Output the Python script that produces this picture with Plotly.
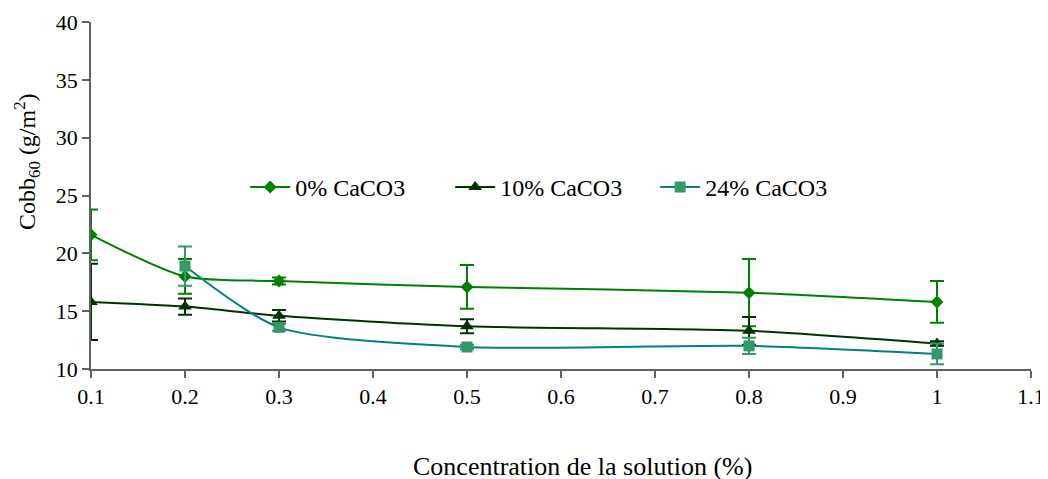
import plotly.graph_objects as go

x_vals = [0.1, 0.2, 0.3, 0.5, 0.8, 1.0]
x_24 = [0.2, 0.3, 0.5, 0.8, 1.0]

cobb_0 = [21.6, 18.0, 17.6, 17.1, 16.6, 15.8]
err_0 = [2.2, 1.5, 0.3, 1.9, 2.9, 1.8]

cobb_10 = [15.8, 15.4, 14.6, 13.7, 13.3, 12.2]
err_10 = [3.3, 0.7, 0.5, 0.6, 1.2, 0.2]

cobb_24 = [18.9, 13.6, 11.9, 12.0, 11.3]
err_24 = [1.7, 0.3, 0.2, 0.7, 0.9]

names = ["0% CaCO3", "10% CaCO3", "24% CaCO3"]
x_ticks = [0.1, 0.2, 0.3, 0.4, 0.5, 0.6, 0.7, 0.8, 0.9, 1, 1.1]
x_tick_text = ["0.1", "0.2", "0.3", "0.4", "0.5", "0.6", "0.7", "0.8", "0.9", "1", "1.1"]
y_ticks = [10, 15, 20, 25, 30, 35, 40]

FONT = "Liberation Serif, Times New Roman, serif"
AXC = "#606060"

fig = go.Figure()
fig.add_trace(go.Scatter(
    x=x_vals, y=cobb_0, name=names[0], mode="lines+markers",
    line=dict(color="#008000", width=2, shape="spline", smoothing=0.7),
    marker=dict(symbol="diamond", size=10, color="#008000"),
    error_y=dict(type="data", array=err_0, color="#008000", thickness=2, width=7),
))
fig.add_trace(go.Scatter(
    x=x_vals, y=cobb_10, name=names[1], mode="lines+markers",
    line=dict(color="#003300", width=2, shape="spline", smoothing=0.7),
    marker=dict(symbol="triangle-up", size=12, color="#003300"),
    error_y=dict(type="data", array=err_10, color="#003300", thickness=2, width=7),
))
fig.add_trace(go.Scatter(
    x=x_24, y=cobb_24, name=names[2], mode="lines+markers",
    line=dict(color="#008080", width=2, shape="spline", smoothing=0.7),
    marker=dict(symbol="square", size=11, color="#339966"),
    error_y=dict(type="data", array=err_24, color="#339966", thickness=2, width=7),
))

fig.update_layout(
    width=1048, height=479,
    margin=dict(l=83, r=25, t=14, b=118, autoexpand=False),
    paper_bgcolor="white", plot_bgcolor="white",
    font=dict(family=FONT, size=22, color="black"),
    showlegend=True,
    legend=dict(
        orientation="h", x=0.164, y=0.523, xanchor="left", yanchor="middle",
        bgcolor="rgba(0,0,0,0)", font=dict(family=FONT, size=24),
        itemwidth=40, tracegroupgap=0,
        entrywidth=150, entrywidthmode="pixels",
    ),
    xaxis=dict(
        range=[0.1, 1.1], tickvals=x_ticks, ticktext=x_tick_text,
        showgrid=False, zeroline=False, showline=True, linecolor=AXC, linewidth=1.5,
        ticks="outside", ticklen=7, tickcolor=AXC, tickwidth=1.5,
        tickfont=dict(family=FONT, size=22), automargin=False,
    ),
    yaxis=dict(
        range=[10, 40], tickvals=y_ticks,
        showgrid=False, zeroline=False, showline=True, linecolor=AXC, linewidth=1.5,
        ticks="outside", ticklen=7, tickcolor=AXC, tickwidth=1.5,
        tickfont=dict(family=FONT, size=22), automargin=False,
    ),
    annotations=[
        dict(text="Concentration de la solution (%)", xref="paper", yref="paper",
             x=0.523, y=-0.282, xanchor="center", yanchor="middle", showarrow=False,
             font=dict(family=FONT, size=26)),
        dict(text="Cobb<sub>60</sub> (g/m<sup>2</sup>)", xref="paper", yref="paper",
             x=-0.068, y=0.597, xanchor="center", yanchor="middle", showarrow=False,
             textangle=-90, font=dict(family=FONT, size=24)),
    ],
)

fig.write_html("out.html")
